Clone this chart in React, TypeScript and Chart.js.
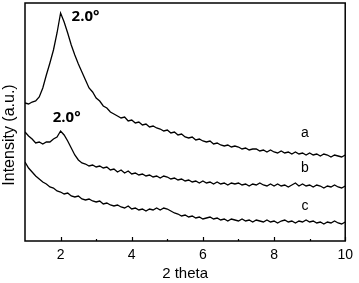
import React, { useEffect, useRef } from "react";
import { Chart, registerables } from "chart.js";

Chart.register(...registerables);

// 2 theta positions (degrees)
const theta = [
  1.0, 1.1, 1.2, 1.3, 1.4, 1.5, 1.6, 1.7, 1.8, 1.9,
  2.0, 2.1, 2.2, 2.3, 2.4, 2.5, 2.6, 2.7, 2.8, 2.9,
  3.0, 3.1, 3.2, 3.3, 3.4, 3.5, 3.6, 3.7, 3.8, 3.9,
  4.0, 4.1, 4.2, 4.3, 4.4, 4.5, 4.6, 4.7, 4.8, 4.9,
  5.0, 5.1, 5.2, 5.3, 5.4, 5.5, 5.6, 5.7, 5.8, 5.9,
  6.0, 6.1, 6.2, 6.3, 6.4, 6.5, 6.6, 6.7, 6.8, 6.9,
  7.0, 7.1, 7.2, 7.3, 7.4, 7.5, 7.6, 7.7, 7.8, 7.9,
  8.0, 8.1, 8.2, 8.3, 8.4, 8.5, 8.6, 8.7, 8.8, 8.9,
  9.0, 9.1, 9.2, 9.3, 9.4, 9.5, 9.6, 9.7, 9.8, 9.9,
  10.0,
];

// Intensity (a.u.), offset traces
const seriesA = [
  138, 137, 139, 140, 144, 153, 166, 178, 191, 208,
  228, 219, 208, 196, 186, 177, 169, 161, 153, 149,
  143, 140, 135, 133, 129, 127, 125, 123, 124, 120,
  121, 118, 119, 116, 117, 114, 115, 113, 112, 110,
  111, 108, 109, 106, 107, 104, 103, 104, 101, 102,
  100, 99, 100, 97, 98, 96, 95, 96, 94, 95,
  94, 92, 93, 91, 92, 92, 90, 91, 89, 91,
  89, 88, 90, 88, 89, 87, 89, 87, 88, 86,
  88, 86, 87, 85, 87, 86, 84, 86, 85, 84,
  86,
];

const seriesB = [
  109, 105, 102, 98, 99, 97, 99, 99, 102, 104,
  110, 106, 100, 93, 86, 81, 78, 77, 75, 76,
  74, 75, 73, 74, 71, 72, 69, 71, 68, 70,
  67, 68, 66, 67, 65, 66, 64, 65, 63, 65,
  64, 62, 63, 61, 62, 60, 61, 59, 60, 58,
  60, 58, 59, 57, 59, 57, 58, 56, 58, 57,
  58, 56, 57, 55, 57, 56, 58, 56, 55, 57,
  55, 57, 55, 56, 54, 56, 58, 55, 57, 55,
  56, 54, 56, 55, 53, 55, 54, 56, 54, 53,
  55,
];

const seriesC = [
  79, 73, 69, 65, 62, 59, 57, 54, 53, 50,
  49, 47, 48, 45, 44, 45, 42, 41, 42, 40,
  39, 40, 37, 38, 36, 35, 36, 34, 33, 35,
  32, 33, 31, 32, 30, 32, 31, 33, 31, 33,
  32, 30, 28, 27, 25, 26, 24, 25, 23, 24,
  22, 23, 24, 22, 23, 21, 22, 20, 22, 21,
  20, 22, 20, 21, 19, 21, 20, 19, 21, 19,
  20, 18, 20, 21, 19, 20, 18, 20, 19, 21,
  19, 20, 18, 19, 17, 19, 18, 20, 18, 17,
  19,
];

const seriesNames = ["a", "b", "c"];
const majorTicks = [2, 4, 6, 8, 10];
const minorTicks = [3, 5, 7, 9];

// annotations: [text, x (deg), y (a.u.)]
const traceLabels: [string, number, number][] = [
  ["a", 8.87, 108],
  ["b", 8.87, 73],
  ["c", 8.87, 35],
];
const peakLabels: [string, number, number][] = [
  ["2.0°", 2.31, 224],
  ["2.0°", 1.78, 123],
];

const SANS = "'Liberation Sans', Arial, sans-serif";

export default function App() {
  const ref = useRef<HTMLCanvasElement | null>(null);

  useEffect(() => {
    if (!ref.current) return;
    const series = [seriesA, seriesB, seriesC];
    const decor = {
      id: "decor",
      afterDraw(chart: any) {
        const { ctx, chartArea, scales } = chart;
        const xs = scales.x;
        const ys = scales.y;
        ctx.save();
        ctx.strokeStyle = "#000";
        ctx.lineWidth = 1.5;
        ctx.strokeRect(
          chartArea.left,
          chartArea.top,
          chartArea.right - chartArea.left,
          chartArea.bottom - chartArea.top
        );
        ctx.lineWidth = 1.2;
        ctx.beginPath();
        majorTicks.forEach((v) => {
          const px = Math.round(xs.getPixelForValue(v)) + 0.5;
          ctx.moveTo(px, chartArea.bottom);
          ctx.lineTo(px, chartArea.bottom - 4);
        });
        minorTicks.forEach((v) => {
          const px = Math.round(xs.getPixelForValue(v)) + 0.5;
          ctx.moveTo(px, chartArea.bottom);
          ctx.lineTo(px, chartArea.bottom - 2);
        });
        ctx.stroke();

        ctx.fillStyle = "#000";
        ctx.font = `14px ${SANS}`;
        ctx.textAlign = "center";
        ctx.textBaseline = "middle";
        traceLabels.forEach(([t, x, y]) => {
          ctx.fillText(t, xs.getPixelForValue(x), ys.getPixelForValue(y));
        });

        ctx.font = `bold 15px 'Open Sans', sans-serif`;
        ctx.textAlign = "left";
        peakLabels.forEach(([t, x, y]) => {
          ctx.fillText(t, xs.getPixelForValue(x), ys.getPixelForValue(y));
        });

        ctx.font = `16px ${SANS}`;
        ctx.textAlign = "center";
        ctx.translate(10, 135);
        ctx.rotate(-Math.PI / 2);
        ctx.fillText("Intensity (a.u.)", 0, 0);
        ctx.restore();
      },
    };

    const chart = new Chart(ref.current, {
      type: "line",
      data: {
        datasets: series.map((s, i) => ({
          label: seriesNames[i],
          data: theta.map((x, j) => ({ x, y: s[j] })),
          borderColor: "#000",
          borderWidth: 1.3,
          pointRadius: 0,
          tension: 0,
          fill: false,
        })),
      },
      options: {
        responsive: false,
        animation: false,
        layout: { padding: { top: 3, right: 9, left: 0, bottom: 0 } },
        plugins: {
          legend: { display: false },
          tooltip: { enabled: false },
        },
        scales: {
          x: {
            type: "linear",
            min: 1,
            max: 10,
            grid: { display: false, drawTicks: false },
            border: { display: false },
            afterBuildTicks: (scale: any) => {
              scale.ticks = majorTicks.map((v) => ({ value: v }));
            },
            afterFit: (scale: any) => {
              scale.height = 42;
            },
            ticks: {
              color: "#000",
              font: { family: SANS, size: 14 },
              padding: 6,
              maxRotation: 0,
            },
            title: {
              display: true,
              text: "2 theta",
              color: "#000",
              font: { family: SANS, size: 15 },
              padding: { top: 0, bottom: 0 },
            },
          },
          y: {
            type: "linear",
            min: 0,
            max: 238,
            grid: { display: false, drawTicks: false },
            border: { display: false },
            ticks: { display: false },
            afterFit: (scale: any) => {
              scale.width = 25;
            },
          },
        },
      },
      plugins: [decor],
    });
    return () => chart.destroy();
  }, []);

  return (
    <div style={{ position: "fixed", left: 0, top: 0, width: 359, height: 283, background: "#fff" }}>
      <canvas ref={ref} width={359} height={283} style={{ display: "block" }} />
    </div>
  );
}
